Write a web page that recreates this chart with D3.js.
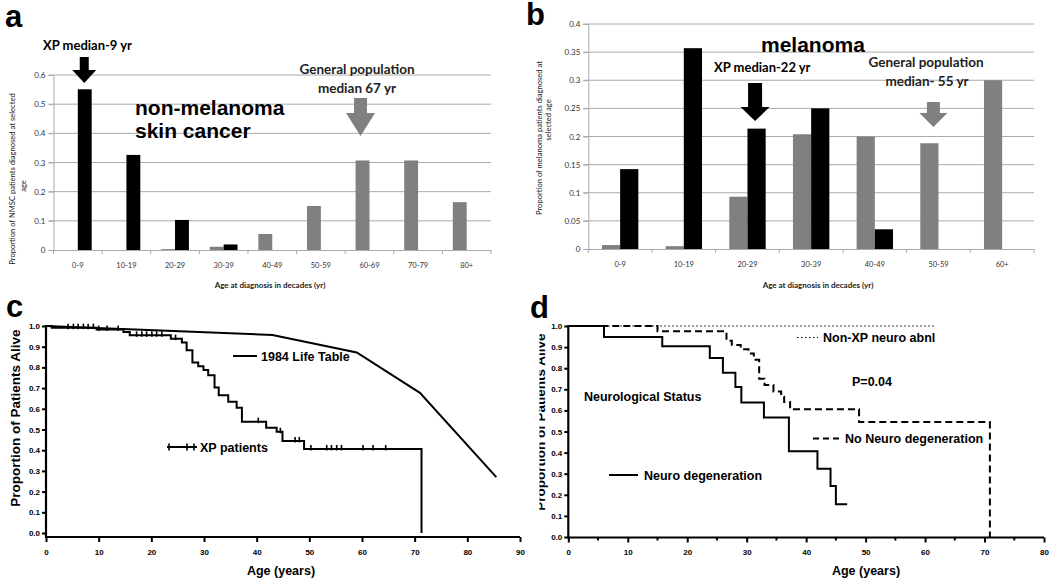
<!DOCTYPE html>
<html lang="en">
<head>
  <meta charset="UTF-8" />
  <title>XP cancer age and survival</title>
  <script src="https://d3js.org/d3.v7.min.js"></script>
  <style>
    body { margin: 0; background: #fff; }
    svg { display: block; }
    .calib { font-family: Lato, "Open Sans", sans-serif; }
    .prism { font-family: "Liberation Sans", Arial, sans-serif; font-weight: bold; }
  </style>
</head>
<body>
  <div id="chart"></div>

  <script>
    // panel a: non-melanoma skin cancer
    const ageGroupsA = ["0-9", "10-19", "20-29", "30-39", "40-49", "50-59", "60-69", "70-79", "80+"];
    const generalNMSC = [0, 0, 0.003, 0.011, 0.055, 0.151, 0.307, 0.307, 0.164];
    const xpNMSC = [0.551, 0.326, 0.103, 0.019, 0, 0, 0, 0, 0];
    const ticksA = [0, 0.1, 0.2, 0.3, 0.4, 0.5, 0.6];

    // panel b: melanoma
    const ageGroupsB = ["0-9", "10-19", "20-29", "30-39", "40-49", "50-59", "60+"];
    const generalMel = [0.007, 0.005, 0.093, 0.204, 0.2, 0.188, 0.3];
    const xpMel = [0.142, 0.357, 0.214, 0.25, 0.035, 0, 0];
    const ticksB = [0, 0.05, 0.1, 0.15, 0.2, 0.25, 0.3, 0.35, 0.4];

    // panel c: survival vs life table
    const lifeTable = [[0, 1.0], [43, 0.957], [59, 0.872], [71, 0.677], [85.5, 0.27]];
    const xpSurvival = [[0, 1.0], [1.1, 0.992], [9.6, 0.983], [14.7, 0.971], [15.9, 0.955],
      [23.7, 0.939], [25.8, 0.92], [26.7, 0.883], [27.8, 0.824], [28.9, 0.806], [29.9, 0.787],
      [30.8, 0.762], [32.0, 0.703], [32.8, 0.666], [34.6, 0.634], [36.2, 0.605], [37.2, 0.538],
      [41.8, 0.509], [43.8, 0.489], [44.9, 0.445], [49.0, 0.406], [71.3, 0]];
    const xpCensored = [4.2, 5.2, 6.1, 7.1, 8.0, 9.0, 10.0, 11.6, 13.7, 17.2, 18.2, 19.1, 20.1,
      21.0, 22.0, 24.6, 40.3, 44.5, 47.3, 48.1, 50.3, 53.3, 54.2, 55.2, 56.1, 60.2, 62.1, 64.5];

    // panel d: neurological status
    const neuroDegen = [[0, 1.0], [6, 0.948], [15.8, 0.904], [23.8, 0.848], [26, 0.779],
      [28.1, 0.711], [29.1, 0.637], [32.9, 0.566], [37.1, 0.406], [41.9, 0.324], [44.1, 0.242],
      [45, 0.155], [46.9, 0.155]];
    const noNeuroDegen = [[0, 1.0], [15, 0.975], [26.6, 0.93], [27.5, 0.91], [29, 0.89],
      [30.3, 0.87], [31.2, 0.84], [32.1, 0.75], [33, 0.72], [34.5, 0.69], [35.8, 0.665],
      [36.3, 0.64], [37.3, 0.605], [48.9, 0.545], [70.9, 0]];
    const nonXPNeuro = [[0, 1.0], [61.6, 1.0]];

    const survTicks = [0, 0.1, 0.2, 0.3, 0.4, 0.5, 0.6, 0.7, 0.8, 0.9, 1.0];

    const GREY = "#808080";

    const svg = d3.select("#chart")
      .append("svg")
      .attr("width", 1050)
      .attr("height", 581);

    svg.append("rect").attr("width", 1050).attr("height", 581).attr("fill", "#fff");

    // panel letters
    const letters = [["a", 5, 27], ["b", 526, 24.5], ["c", 6, 317], ["d", 530, 318]];
    svg.selectAll(".letter")
      .data(letters)
      .enter()
      .append("text")
      .attr("class", "prism")
      .attr("x", d => d[1])
      .attr("y", d => d[2])
      .style("font-size", "31px")
      .text(d => d[0]);

    function arrow(g, cx, top, headTop, tip, shaftHW, headHW, color) {
      g.append("path")
        .attr("d", `M${cx - shaftHW},${top} L${cx + shaftHW},${top} L${cx + shaftHW},${headTop}
          L${cx + headHW},${headTop} L${cx},${tip} L${cx - headHW},${headTop} L${cx - shaftHW},${headTop} Z`)
        .attr("fill", color);
    }

    // excel-style bar chart
    function barPanel(opt) {
      const g = svg.append("g");
      const x = d3.scaleBand().domain(opt.groups).range([opt.left, opt.right]);
      const y = d3.scaleLinear().domain([0, opt.max]).range([opt.bottom, opt.top]);
      const bw = x.bandwidth() / 3.5;

      // gridlines
      g.selectAll(".grid")
        .data(opt.ticks.slice(1))
        .enter()
        .append("line")
        .attr("x1", opt.left - 5).attr("x2", opt.right)
        .attr("y1", d => y(d)).attr("y2", d => y(d))
        .attr("stroke", "#aaa").attr("stroke-width", 1);

      const yAxis = g.append("g")
        .attr("transform", `translate(${opt.left},0)`)
        .call(d3.axisLeft(y).tickValues(opt.ticks).tickSize(5).tickPadding(3)
          .tickFormat(d => d3.format("")(+d.toFixed(2))));
      yAxis.select(".domain").attr("stroke", "#aaa");
      yAxis.selectAll(".tick line").attr("stroke", "#aaa");
      yAxis.selectAll("text").attr("class", "calib").style("font-size", "8px").attr("fill", "#333");

      // bars
      g.selectAll(".gen")
        .data(opt.general)
        .enter()
        .append("rect")
        .attr("x", (d, i) => x(opt.groups[i]) + x.bandwidth() / 2 - bw)
        .attr("width", bw)
        .attr("y", d => y(d))
        .attr("height", d => opt.bottom - y(d))
        .attr("fill", GREY);

      g.selectAll(".xp")
        .data(opt.xp)
        .enter()
        .append("rect")
        .attr("x", (d, i) => x(opt.groups[i]) + x.bandwidth() / 2)
        .attr("width", bw)
        .attr("y", d => y(d))
        .attr("height", d => opt.bottom - y(d))
        .attr("fill", "#000");

      // x axis
      const xAxis = g.append("g")
        .attr("transform", `translate(0,${opt.bottom})`)
        .call(d3.axisBottom(x).tickSize(0).tickPadding(13));
      xAxis.select(".domain").attr("stroke", "#aaa");
      xAxis.selectAll("text").attr("class", "calib").style("font-size", "7.5px").attr("fill", "#333");
      g.selectAll(".sep")
        .data(d3.range(opt.groups.length + 1))
        .enter()
        .append("line")
        .attr("x1", i => opt.left + i * x.bandwidth())
        .attr("x2", i => opt.left + i * x.bandwidth())
        .attr("y1", opt.bottom).attr("y2", opt.bottom + 4)
        .attr("stroke", "#aaa");

      g.append("text")
        .attr("class", "calib")
        .attr("x", opt.xTitleX)
        .attr("y", 288)
        .attr("text-anchor", "middle")
        .style("font-size", "8px")
        .style("font-weight", "bold")
        .attr("fill", "#222")
        .text("Age at diagnosis  in decades  (yr)");

      opt.yTitle.forEach(t => {
        g.append("text")
          .attr("class", "calib")
          .attr("transform", `translate(${t[1]},${t[2]}) rotate(-90)`)
          .attr("text-anchor", "middle")
          .style("font-size", "7.6px")
          .attr("fill", "#222")
          .text(t[0]);
      });
      return {g, x, y, bw};
    }

    // ---- panel a
    const pa = barPanel({
      groups: ageGroupsA, general: generalNMSC, xp: xpNMSC, ticks: ticksA, max: 0.6,
      left: 53.5, right: 491, top: 75, bottom: 250, xTitleX: 270,
      yTitle: [["Proportion of NMSC patients diagnosed  at selected", 15, 179], ["age", 26, 186]]
    });
    arrow(pa.g, pa.x("0-9") + pa.x.bandwidth() / 2 + pa.bw / 2 - 0.5, 57, 70, 83, 4.5, 12, "#000");
    arrow(pa.g, pa.x("60-69") + pa.x.bandwidth() / 2 - pa.bw / 2 - 2, 98, 113, 136, 6.5, 14.5, GREY);
    pa.g.append("text").attr("class", "calib").attr("x", 43).attr("y", 50)
      .style("font-size", "13px").style("font-weight", "bold").text("XP median-9 yr");
    pa.g.append("text").attr("class", "calib").attr("x", 357).attr("y", 74).attr("text-anchor", "middle")
      .style("font-size", "13.5px").style("font-weight", "bold").attr("fill", "#222").text("General population");
    pa.g.append("text").attr("class", "calib").attr("x", 357).attr("y", 93).attr("text-anchor", "middle")
      .style("font-size", "13.5px").style("font-weight", "bold").attr("fill", "#222").text("median 67 yr");
    pa.g.append("text").attr("class", "prism").attr("x", 135).attr("y", 115)
      .style("font-size", "21px").text("non-melanoma");
    pa.g.append("text").attr("class", "prism").attr("x", 135).attr("y", 138)
      .style("font-size", "21px").text("skin cancer");

    // ---- panel b
    const pb = barPanel({
      groups: ageGroupsB, general: generalMel, xp: xpMel, ticks: ticksB, max: 0.4,
      left: 588.3, right: 1034, top: 24, bottom: 249, xTitleX: 818,
      yTitle: [["Proportion of melanoma patients diagnosed  at", 542, 138], ["selected age", 551, 120]]
    });
    arrow(pb.g, pb.x("20-29") + pb.x.bandwidth() / 2 + pb.bw / 2 - 1.5, 83, 107, 121, 7, 14.5, "#000");
    arrow(pb.g, pb.x("50-59") + pb.x.bandwidth() / 2 - pb.bw / 2 + 4, 102, 113, 127, 6.5, 14, GREY);
    pb.g.append("text").attr("class", "prism").attr("x", 761).attr("y", 52)
      .style("font-size", "21px").text("melanoma");
    pb.g.append("text").attr("class", "calib").attr("x", 714).attr("y", 72)
      .style("font-size", "13px").style("font-weight", "bold").text("XP median-22 yr");
    pb.g.append("text").attr("class", "calib").attr("x", 926).attr("y", 67).attr("text-anchor", "middle")
      .style("font-size", "13.5px").style("font-weight", "bold").attr("fill", "#222").text("General population");
    pb.g.append("text").attr("class", "calib").attr("x", 927).attr("y", 86).attr("text-anchor", "middle")
      .style("font-size", "13.5px").style("font-weight", "bold").attr("fill", "#222").text("median- 55 yr");

    // prism-style survival axes
    function survAxes(opt) {
      const g = svg.append("g");
      const x = d3.scaleLinear().domain([0, opt.xmax]).range([opt.left, opt.right]);
      const y = d3.scaleLinear().domain([0, 1]).range([opt.y0, opt.y1]);

      const yAxis = g.append("g")
        .attr("transform", `translate(${opt.left},0)`)
        .call(d3.axisLeft(y).tickValues(survTicks).tickSize(4).tickPadding(2).tickFormat(d3.format(".1f")));
      yAxis.select(".domain").remove();
      yAxis.selectAll(".tick line").attr("stroke", "#000").attr("stroke-width", 2);
      yAxis.selectAll("text").attr("class", "prism").style("font-size", "8px").attr("fill", "#000");
      g.append("line")
        .attr("x1", opt.left).attr("x2", opt.left)
        .attr("y1", opt.axisY).attr("y2", opt.y1 - 1)
        .attr("stroke", "#000").attr("stroke-width", 2.2);

      const xAxis = g.append("g")
        .attr("transform", `translate(0,${opt.axisY})`)
        .call(d3.axisBottom(x).tickValues(d3.range(0, opt.xmax + 1, 10)).tickSize(5).tickPadding(7));
      xAxis.select(".domain").remove();
      xAxis.selectAll(".tick line").attr("stroke", "#000").attr("stroke-width", 2);
      xAxis.selectAll("text").attr("class", "prism").style("font-size", "8px").attr("fill", "#000");
      if (opt.minor) {
        g.selectAll(".minor")
          .data(d3.range(5, opt.xmax, 10))
          .enter()
          .append("line")
          .attr("x1", d => x(d)).attr("x2", d => x(d))
          .attr("y1", opt.axisY).attr("y2", opt.axisY + 3)
          .attr("stroke", "#000").attr("stroke-width", 2);
      }
      g.append("line")
        .attr("x1", opt.left - 1).attr("x2", opt.right)
        .attr("y1", opt.axisY).attr("y2", opt.axisY)
        .attr("stroke", "#000").attr("stroke-width", 2.2);

      g.append("text")
        .attr("class", "prism")
        .attr("x", opt.xTitleX).attr("y", 575)
        .attr("text-anchor", "middle")
        .style("font-size", "12.5px")
        .text("Age (years)");
      return {g, x, y};
    }

    const stepLine = (x, y) => d3.line().curve(d3.curveStepAfter).x(d => x(d[0])).y(d => y(d[1]));
    const valueAt = (steps, t) => steps.filter(s => s[0] <= t).slice(-1)[0][1];

    // ---- panel c
    const pc = survAxes({left: 46, right: 520, xmax: 90, y0: 533, y1: 326, axisY: 537, xTitleX: 281});
    pc.g.append("text")
      .attr("class", "prism")
      .attr("transform", "translate(20,418) rotate(-90)")
      .attr("text-anchor", "middle")
      .style("font-size", "13.5px")
      .text("Proportion of Patients Alive");

    pc.g.append("path")
      .datum(lifeTable)
      .attr("fill", "none").attr("stroke", "#000").attr("stroke-width", 2)
      .attr("d", d3.line().x(d => pc.x(d[0])).y(d => pc.y(d[1])));

    pc.g.append("path")
      .datum(xpSurvival)
      .attr("fill", "none").attr("stroke", "#000").attr("stroke-width", 2)
      .attr("d", stepLine(pc.x, pc.y));

    pc.g.selectAll(".cens")
      .data(xpCensored)
      .enter()
      .append("line")
      .attr("x1", d => pc.x(d)).attr("x2", d => pc.x(d))
      .attr("y1", d => pc.y(valueAt(xpSurvival, d)) - 4)
      .attr("y2", d => pc.y(valueAt(xpSurvival, d)) + 1.5)
      .attr("stroke", "#000").attr("stroke-width", 1.6);

    // legend c
    pc.g.append("line").attr("x1", 233).attr("x2", 257).attr("y1", 356).attr("y2", 356)
      .attr("stroke", "#000").attr("stroke-width", 2);
    pc.g.append("text").attr("class", "prism").attr("x", 261).attr("y", 360.5)
      .style("font-size", "12.5px").text("1984 Life Table");
    pc.g.append("line").attr("x1", 167).attr("x2", 197).attr("y1", 447).attr("y2", 447)
      .attr("stroke", "#000").attr("stroke-width", 2);
    pc.g.selectAll(".legcens")
      .data([169, 187, 194])
      .enter()
      .append("line")
      .attr("x1", d => d).attr("x2", d => d).attr("y1", 443.5).attr("y2", 450.5)
      .attr("stroke", "#000").attr("stroke-width", 1.6);
    pc.g.append("text").attr("class", "prism").attr("x", 200).attr("y", 451.5)
      .style("font-size", "12.5px").text("XP patients");

    // ---- panel d
    const pd = survAxes({left: 568.3, right: 1044, xmax: 80, y0: 537, y1: 326, axisY: 537.5, xTitleX: 866, minor: true});
    // y title is partly cut off in the original figure
    svg.append("clipPath").attr("id", "clipD")
      .append("rect").attr("x", 539.5).attr("y", 300).attr("width", 30).attr("height", 240);
    svg.append("g")
      .attr("clip-path", "url(#clipD)")
      .append("text")
      .attr("class", "prism")
      .attr("transform", "translate(545,422) rotate(-90)")
      .attr("text-anchor", "middle")
      .style("font-size", "13.5px")
      .text("Proportion of Patients Alive");

    pd.g.append("path")
      .datum(nonXPNeuro)
      .attr("fill", "none").attr("stroke", "#000").attr("stroke-width", 1)
      .attr("stroke-dasharray", "1.5,2.5")
      .attr("d", d3.line().x(d => pd.x(d[0])).y(d => pd.y(d[1])));

    pd.g.append("path")
      .datum(noNeuroDegen)
      .attr("fill", "none").attr("stroke", "#000").attr("stroke-width", 2)
      .attr("stroke-dasharray", "7,4")
      .attr("d", stepLine(pd.x, pd.y));

    pd.g.append("path")
      .datum(neuroDegen)
      .attr("fill", "none").attr("stroke", "#000").attr("stroke-width", 2)
      .attr("d", stepLine(pd.x, pd.y));

    // legend d
    pd.g.append("line").attr("x1", 797).attr("x2", 818).attr("y1", 337.5).attr("y2", 337.5)
      .attr("stroke", "#000").attr("stroke-width", 1).attr("stroke-dasharray", "1.5,2.5");
    pd.g.append("text").attr("class", "prism").attr("x", 823).attr("y", 342)
      .style("font-size", "12.5px").text("Non-XP neuro abnl");
    pd.g.append("text").attr("class", "prism").attr("x", 852).attr("y", 385.5)
      .style("font-size", "12.5px").text("P=0.04");
    pd.g.append("text").attr("class", "prism").attr("x", 584).attr("y", 401)
      .style("font-size", "12.5px").text("Neurological Status");
    pd.g.append("line").attr("x1", 813).attr("x2", 840).attr("y1", 438.5).attr("y2", 438.5)
      .attr("stroke", "#000").attr("stroke-width", 2).attr("stroke-dasharray", "6,4");
    pd.g.append("text").attr("class", "prism").attr("x", 845).attr("y", 443)
      .style("font-size", "12.5px").text("No Neuro degeneration");
    pd.g.append("line").attr("x1", 609).attr("x2", 638).attr("y1", 475).attr("y2", 475)
      .attr("stroke", "#000").attr("stroke-width", 2);
    pd.g.append("text").attr("class", "prism").attr("x", 644).attr("y", 479.5)
      .style("font-size", "12.5px").text("Neuro degeneration");
  </script>
</body>
</html>
